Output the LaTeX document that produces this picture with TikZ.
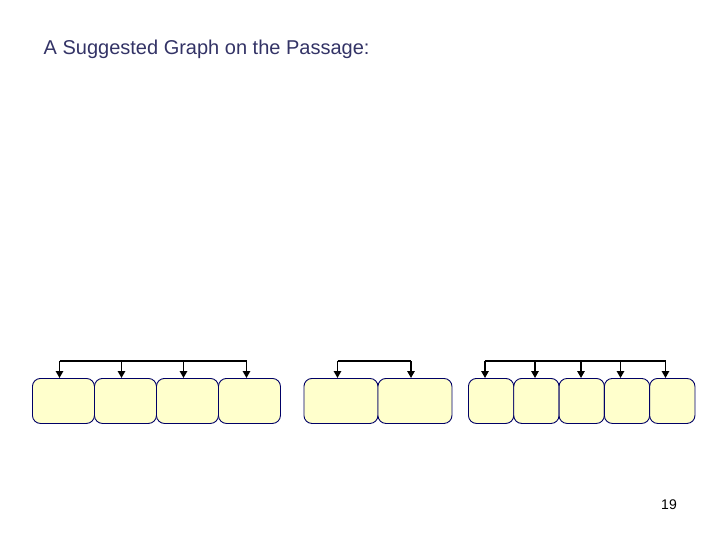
\documentclass[tikz,border=0pt]{standalone}
\usepackage{fontspec}
\setmainfont{Liberation Sans}
\usetikzlibrary{arrows.meta}
\definecolor{titlecol}{RGB}{51,51,102}
\definecolor{boxfill}{RGB}{255,255,204}
\definecolor{boxline}{RGB}{0,0,102}
\tikzset{
  cell/.style={draw=boxline, fill=boxfill, line width=0.9pt, rounded corners=8pt,
    minimum height=45pt, inner sep=0pt, anchor=north west},
  barline/.style={draw=black, line width=1.3pt},
  down/.style={draw=black, line width=1.3pt, -{Triangle[length=7pt,width=7.5pt]}}
}
\begin{document}
\begin{tikzpicture}[x=1pt,y=-1pt]
\useasboundingbox (0,0) rectangle (720,540);
\node[anchor=base west, text=titlecol, inner sep=0pt, font=\fontsize{20}{24}\selectfont] (title) at (43.5,55) {A Suggested Graph on the Passage:};
\node[anchor=base east, inner sep=0pt, font=\fontsize{14}{16}\selectfont] (page) at (677,509) {19};
% group 1
\foreach \i/\x in {1/32,2/94,3/156,4/218}{
  \node[cell, minimum width=62pt] (a\i) at (\x,378) {};
}
% group 2
\foreach \i/\x in {1/303.5,2/377.5}{
  \node[cell, minimum width=74pt] (b\i) at (\x,378) {};
}
% group 3
\foreach \i/\x in {1/468,2/513.3,3/558.6,4/603.9,5/649.2}{
  \node[cell, minimum width=45.3pt] (c\i) at (\x,378) {};
}
% bar coordinates
\coordinate (pa1) at (59.5,361);
\coordinate (pa2) at (121.5,361);
\coordinate (pa3) at (183.5,361);
\coordinate (pa4) at (246.5,361);
\coordinate (pb1) at (337.5,361);
\coordinate (pb2) at (411,361);
\coordinate (pc1) at (485,361);
\coordinate (pc2) at (535,361);
\coordinate (pc3) at (581,361);
\coordinate (pc4) at (620.5,361);
\coordinate (pc5) at (665.5,361);
\draw[barline] (pa1) -- (pa4);
\draw[barline] (pb1) -- (pb2);
\draw[barline] (pc1) -- (pc5);
\foreach \i in {1,2,3,4}{ \draw[down] (pa\i) -- (pa\i |- a\i.north); }
\foreach \i in {1,2}{ \draw[down] (pb\i) -- (pb\i |- b\i.north); }
\foreach \i in {1,2,3,4,5}{ \draw[down] (pc\i) -- (pc\i |- c\i.north); }
\end{tikzpicture}
\end{document}
